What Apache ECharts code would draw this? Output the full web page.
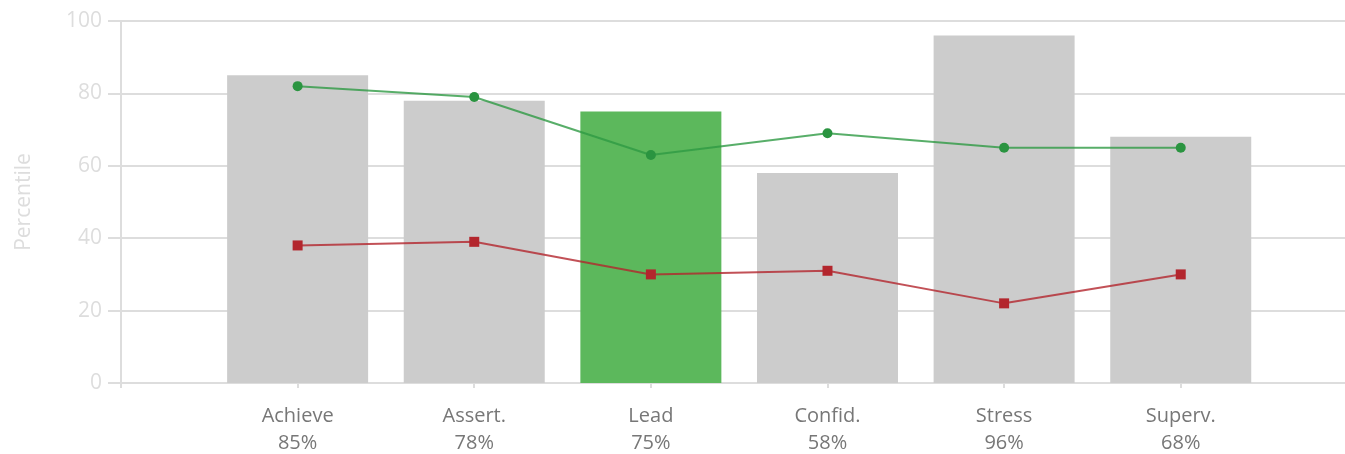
<!DOCTYPE html>
<html>
<head>
<meta charset="utf-8">
<script src="https://cdn.jsdelivr.net/npm/echarts@6/dist/echarts.min.js"></script>
<style>
  html, body { margin: 0; padding: 0; background: #fff; }
  #chart { width: 1345px; height: 454px; }
</style>
</head>
<body>
<div id="chart"></div>
<script>
const categories = ['Achieve', 'Assert.', 'Lead', 'Confid.', 'Stress', 'Superv.']
const barValues = [85, 78, 75, 58, 96, 68]
const greenValues = [82, 79, 63, 69, 65, 65]
const redValues = [38, 39, 30, 31, 22, 30]
const highlightIndex = 2
const yTicks = [0, 20, 40, 60, 80, 100]

const grey = '#cccccc'
const green = '#5cb85c'
const axisColor = '#dddddd'

const chart = echarts.init(document.getElementById('chart'))

const toPoints = values => values.map((v, i) => [i, v])

chart.setOption({
  animation: false,
  textStyle: { fontFamily: 'Open Sans' },
  grid: {
    left: 121,
    right: 0,
    top: 21,
    bottom: 71,
    outerBoundsMode: 'none'
  },
  xAxis: {
    type: 'value',
    min: -1,
    max: 5.93,
    interval: 1,
    splitLine: { show: false },
    axisLine: { show: true, onZero: false, lineStyle: { color: axisColor, width: 2 } },
    axisTick: { show: true, length: 5, lineStyle: { color: axisColor, width: 2 } },
    axisLabel: {
      color: '#777777',
      fontSize: 20,
      lineHeight: 27,
      margin: 20,
      showMinLabel: true,
      showMaxLabel: false,
      formatter: value => {
        const i = Math.round(value)
        if (Math.abs(value - i) > 1e-6 || i < 0 || i >= categories.length) return ''
        return categories[i] + '\n' + barValues[i] + '%'
      }
    }
  },
  yAxis: {
    type: 'value',
    min: yTicks[0],
    max: yTicks[yTicks.length - 1],
    interval: 20,
    name: 'Percentile',
    nameLocation: 'middle',
    nameRotate: 90,
    nameGap: 86,
    nameTextStyle: { color: '#dddddd', fontSize: 21 },
    axisLine: { show: true, onZero: false, lineStyle: { color: axisColor, width: 2 } },
    axisTick: { show: true, length: 13, lineStyle: { color: axisColor, width: 2 } },
    splitLine: { show: true, lineStyle: { color: axisColor, width: 2 } },
    axisLabel: { color: '#dddddd', fontSize: 21, margin: 19 }
  },
  series: [
    {
      type: 'bar',
      barWidth: 141,
      data: barValues.map((v, i) => ({
        value: [i, v],
        itemStyle: { color: i === highlightIndex ? green : grey }
      })),
      z: 2
    },
    {
      type: 'line',
      data: toPoints(greenValues),
      symbol: 'circle',
      symbolSize: 10,
      lineStyle: { color: '#2e9a44', width: 2, opacity: 0.8 },
      itemStyle: { color: '#2a9440' },
      z: 3
    },
    {
      type: 'line',
      data: toPoints(redValues),
      symbol: 'rect',
      symbolSize: 10,
      lineStyle: { color: '#b3262d', width: 2, opacity: 0.8 },
      itemStyle: { color: '#b3262d' },
      z: 4
    }
  ]
})
</script>
</body>
</html>
